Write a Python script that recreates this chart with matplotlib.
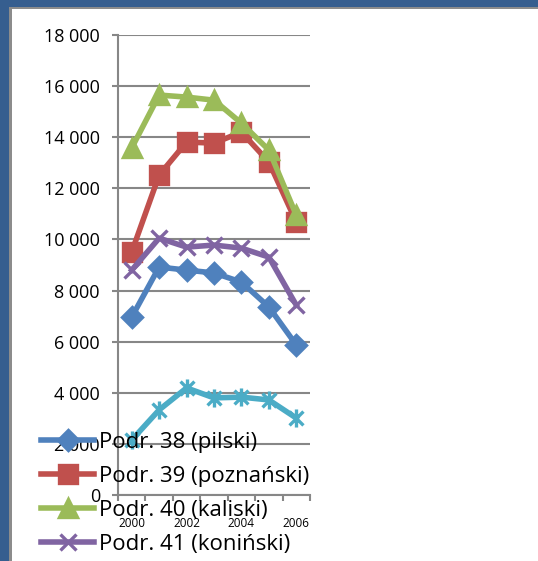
import matplotlib
matplotlib.use("Agg")
import matplotlib.pyplot as plt
from matplotlib.patches import Rectangle
from matplotlib.path import Path

plt.rcParams['font.family'] = ['Open Sans', 'DejaVu Sans']

years = [2000, 2001, 2002, 2003, 2004, 2005, 2006]
year_labels = ['2000', '', '2002', '', '2004', '', '2006']
series_names = ['Podr. 38 (pilski)', 'Podr. 39 (poznański)', 'Podr. 40 (kaliski)',
                'Podr. 41 (koniński)', 'Podr. 42 (m. Poznań)']
pilski = [6960, 8920, 8800, 8690, 8330, 7360, 5870]
poznanski = [9510, 12520, 13810, 13770, 14200, 13030, 10680]
kaliski = [13580, 15650, 15570, 15450, 14550, 13500, 10950]
koninski = [8800, 10050, 9700, 9780, 9660, 9310, 7430]
poznan = [2150, 3330, 4190, 3800, 3830, 3720, 3010]
y_ticks = [0, 2000, 4000, 6000, 8000, 10000, 12000, 14000, 16000, 18000]
y_labels = ['0', '2 000', '4 000', '6 000', '8 000', '10 000', '12 000', '14 000', '16 000', '18 000']

colors = ['#4F81BD', '#C0504D', '#9BBB59', '#8064A2', '#4BACC6']

# asterisk marker like Excel's "star": an x plus a vertical bar
star = Path([(-1, -1), (1, 1), (-1, 1), (1, -1), (0, -1.3), (0, 1.3)],
            [Path.MOVETO, Path.LINETO, Path.MOVETO, Path.LINETO, Path.MOVETO, Path.LINETO])

W, H = 538, 561
fig = plt.figure(figsize=(W / 100, H / 100), dpi=100)
fig.patch.set_facecolor('white')

# window frame: blue band top and left with a gray edge
fig.patches.append(Rectangle((0, 1 - 7 / H), 1, 7 / H, transform=fig.transFigure,
                             facecolor='#365E8F', edgecolor='none', zorder=0))
fig.patches.append(Rectangle((0, 0), 9 / W, 1, transform=fig.transFigure,
                             facecolor='#365E8F', edgecolor='none', zorder=0))
fig.patches.append(Rectangle((9 / W, 0), 3 / W, 1 - 7 / H, transform=fig.transFigure,
                             facecolor='#8C8C8C', edgecolor='none', zorder=0))
fig.patches.append(Rectangle((9 / W, 1 - 9 / H), 1 - 9 / W, 2 / H, transform=fig.transFigure,
                             facecolor='#8C8C8C', edgecolor='none', zorder=0))

ax = fig.add_axes([118 / W, 1 - 495 / H, (310 - 118) / W, (495 - 35) / H])
ax.set_facecolor('none')

x = list(range(len(years)))
data = [pilski, poznanski, kaliski, koninski, poznan]
markers = ['D', 's', '^', 'x', star]
msizes = [10.5, 13, 13, 11, 13]
handles = []
for vals, c, m, ms, name in zip(data, colors, markers, msizes, series_names):
    h, = ax.plot(x, vals, color=c, lw=4, marker=m, ms=ms, mew=2.4, mec=c, mfc=c,
                 label=name, clip_on=False, zorder=3)
    handles.append(h)

ax.set_xlim(-0.5, 6.5)
ax.set_ylim(0, 18000)
ax.set_yticks(y_ticks)
ax.set_yticklabels(y_labels, fontsize=13)
ax.grid(axis='y', color='#878787', lw=1.5)
ax.set_axisbelow(True)

ax.set_xticks([i - 0.5 for i in range(len(years) + 1)], minor=True)
ax.set_xticks(x)
ax.set_xticklabels(year_labels, fontsize=8.5)
ax.tick_params(axis='x', which='major', length=0, pad=16)
ax.tick_params(axis='x', which='minor', length=4, width=1.5, color='#878787')
ax.tick_params(axis='y', length=4, width=1.5, color='#878787', pad=9)

for s in ['top', 'right']:
    ax.spines[s].set_visible(False)
for s in ['left', 'bottom']:
    ax.spines[s].set_color('#878787')
    ax.spines[s].set_linewidth(1.5)

# only the first four entries fit in the visible part of the legend
fig.legend(handles=handles[:4], loc='upper left', bbox_to_anchor=(41 / W, 1 - 432 / H),
           frameon=False, fontsize=16, borderpad=0, borderaxespad=0, handlelength=2.4,
           handletextpad=0.2, labelspacing=0.58)

fig.savefig('out.png', dpi=100)
